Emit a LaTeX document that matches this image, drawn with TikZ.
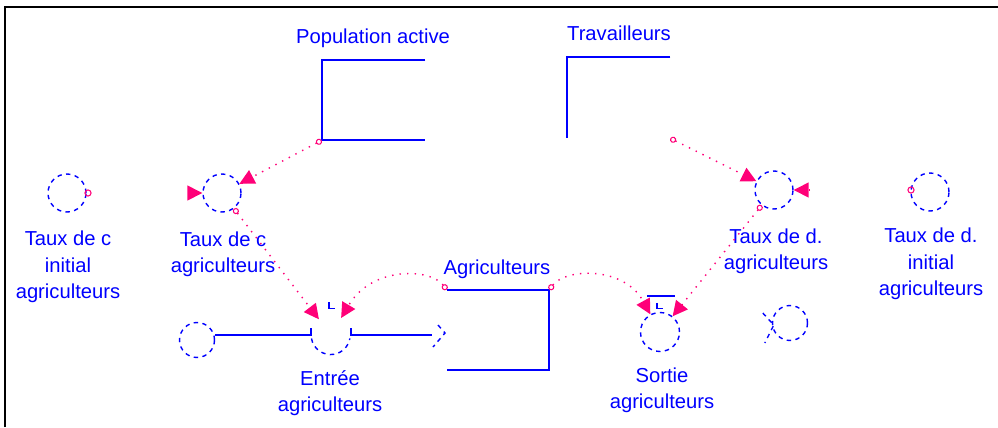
\documentclass[tikz,border=0pt]{standalone}
\usepackage{fontspec}
\setmainfont{Liberation Sans}
\usetikzlibrary{arrows.meta,calc}

\definecolor{sdblue}{RGB}{0,0,255}
\definecolor{sdpink}{RGB}{255,0,120}

\tikzset{
  lbl/.style={align=center, text=sdblue, font=\fontsize{11.5}{15}\selectfont},
  aux/.style={circle, draw=sdblue, line width=0.8pt, dash pattern=on 2.5pt off 2.5pt,
    minimum size=0.76cm, inner sep=0pt},
  cloudc/.style={aux, minimum size=0.7cm},
  valve/.style={circle, minimum size=0.78cm, inner sep=0pt},
  stockbox/.style={rectangle, inner sep=0pt},
  stockline/.style={sdblue, line width=1.1pt},
  pipe/.style={sdblue, line width=1.1pt},
  chev/.style={sdblue, line width=0.8pt, dash pattern=on 2.5pt off 2.5pt},
  link/.style={sdpink, line width=0.8pt, dash pattern=on 0.8pt off 3.5pt,
    arrows={Circle[open,length=3.5pt,line width=0.6pt]-Triangle[length=8.5pt,width=8.5pt]}},
  stub/.style={link, arrows={-Triangle[length=8.5pt,width=8.5pt]}},
  handle/.style={circle, draw=sdpink, line width=0.6pt, minimum size=3.5pt, inner sep=0pt}
}

\begin{document}
\begin{tikzpicture}[x=0.02cm, y=-0.02cm]
  \useasboundingbox (0,0) rectangle (998,427);

  % frame
  \draw[line width=1.5pt] (5,427) -- (5,7) -- (998,7);

  % stocks
  \node[stockbox, minimum width=2.06cm, minimum height=1.6cm] (pop-active) at (373.5,100) {};
  \node[stockbox, minimum width=2.06cm, minimum height=1.62cm] (travailleurs) at (618.5,97.5) {};
  \node[stockbox, minimum width=2.04cm, minimum height=1.6cm] (agriculteurs) at (498,330) {};

  \draw[stockline] (pop-active.north east) -- (pop-active.north west)
    -- (pop-active.south west) -- (pop-active.south east);
  \draw[stockline] (travailleurs.north east) -- (travailleurs.north west)
    -- (travailleurs.south west);
  \draw[stockline] (agriculteurs.north west) -- (agriculteurs.north east)
    -- (agriculteurs.south east) -- (agriculteurs.south west);

  \node[lbl, anchor=base] (pop-active-lbl) at (373,43) {Population active};
  \node[lbl, anchor=base] (travailleurs-lbl) at (619,40) {Travailleurs};
  \node[lbl, anchor=base] (agriculteurs-lbl) at (497,274) {Agriculteurs};

  % auxiliaries
  \foreach \n/\x/\y in {taux-c-init/67/193, taux-c/222/193, taux-d/774/190, taux-d-init/930/192}
    \node[aux] (\n) at (\x,\y) {};

  \node[lbl] (taux-c-init-lbl) at (68,267) {Taux de c\\initial\\agriculteurs};
  \node[lbl] (taux-c-lbl) at (223,254) {Taux de c\\agriculteurs};
  \node[lbl] (taux-d-lbl) at (776,251) {Taux de d.\\agriculteurs};
  \node[lbl] (taux-d-init-lbl) at (931,264) {Taux de d.\\initial\\agriculteurs};

  % inflow
  \node[cloudc] (entree-src) at (197,340) {};
  \node[valve] (entree) at (331,335) {};
  \draw[chev] (entree.190) arc[start angle=190, end angle=350, radius=0.39cm];
  \draw[pipe] ($(entree.west)+(0,-7)$) -- (entree.west) -- (entree.west -| entree-src.east);
  \coordinate (entree-end) at (432,335);
  \draw[pipe] ($(entree.east)+(0,-7)$) -- (entree.east) -- (entree-end);
  \draw[chev] ($(entree-end)+(6,-10)$) -- ($(entree-end)+(13,-2)$) -- ($(entree-end)+(1,12)$);
  \draw[sdblue, line width=0.6pt] ($(entree.north)+(-2,-13)$) -- ++(0,6) -- ++(6,0);
  \node[lbl] (entree-lbl) at (330,393) {Entrée\\agriculteurs};

  % outflow
  \node[valve, draw=sdblue, line width=0.8pt, dash pattern=on 2.5pt off 2.5pt] (sortie) at (660,332) {};
  \draw[pipe] ($(sortie.north)+(-13,-16)$) -- ($(sortie.north)+(15,-16)$);
  \draw[sdblue, line width=0.6pt] ($(sortie.north)+(-3,-9)$) -- ++(0,6) -- ++(6,0);
  \node[cloudc] (sortie-sink) at (790,323) {};
  \draw[chev] ($(sortie-sink.west)+(-9,-10)$) -- ($(sortie-sink.west)+(2,2)$) -- ($(sortie-sink.west)+(-7,20)$);
  \node[lbl] (sortie-lbl) at (662,390) {Sortie\\agriculteurs};

  % links
  \draw[link] (pop-active.south west) -- (taux-c);
  \draw[link] (taux-c) -- (entree);
  \draw[link] (agriculteurs.north west) .. controls (430,268) and (372,266) .. (entree);
  \draw[link] (agriculteurs.north east) .. controls (566,268) and (624,266) .. (sortie);
  \draw[link] (taux-d) -- (sortie);
  \draw[link] (travailleurs.south east) -- (taux-d);

  \node[handle] (taux-c-init-out) at (88,193) {};
  \coordinate (taux-c-in) at (188,193);
  \draw[stub] (taux-c-in) -- (taux-c);
  \node[handle] (taux-d-init-out) at (911,190) {};
  \coordinate (taux-d-in) at (810,190);
  \draw[stub] (taux-d-in) -- (taux-d);

\end{tikzpicture}
\end{document}
